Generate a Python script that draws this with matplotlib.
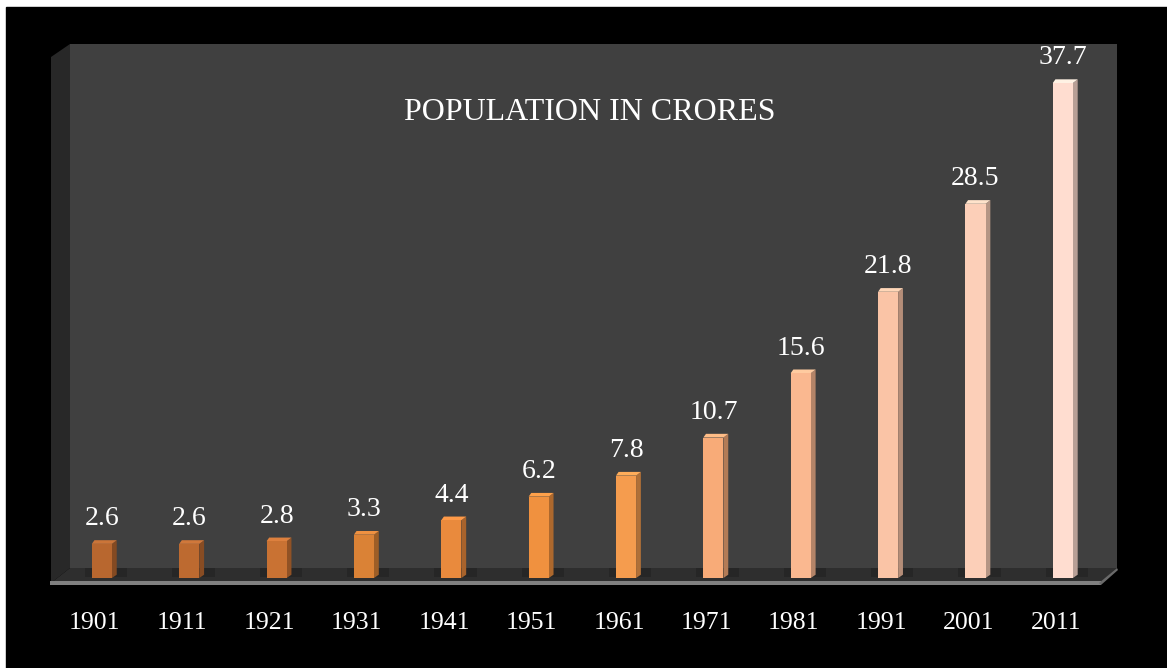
import numpy as np
import matplotlib
matplotlib.use('Agg')
import matplotlib.pyplot as plt
from matplotlib.patches import Polygon, Rectangle
from matplotlib.colors import to_rgb

years = ['1901', '1911', '1921', '1931', '1941', '1951',
         '1961', '1971', '1981', '1991', '2001', '2011']
population = [2.6, 2.6, 2.8, 3.3, 4.4, 6.2, 7.8, 10.7, 15.6, 21.8, 28.5, 37.7]
bar_colors = ['#B8672F', '#BD6A30', '#C97233', '#DA8236', '#E98A3D', '#F0913F',
              '#F59C4E', '#F8AB78', '#FAB890', '#FAC4A6', '#FCCFB8', '#FFDDD0']
title = 'POPULATION IN CRORES'

W, H = 1167, 668
plt.rcParams['font.family'] = ['Liberation Serif', 'DejaVu Serif']

fig = plt.figure(figsize=(W / 100, H / 100), dpi=100, facecolor='white')


def px(x, y):
    # image pixel coords (y down) -> figure fraction
    return (x / W, 1 - y / H)


# black canvas with thin white margin top/left
fig.patches.append(Rectangle(px(6, 668), (W - 6) / W, (H - 7) / H,
                             transform=fig.transFigure, color='black', zorder=-5))

# axes over the 3-D box area
left, right, top, bottom = 51, 1117, 44, 583
ax = fig.add_axes([left / W, 1 - bottom / H, (right - left) / W, (bottom - top) / H])
ax.set_axis_off()
x0_px, step_px = 104.5, 87.36
ax.set_xlim((left - x0_px) / step_px, (right - x0_px) / step_px)
ypx = 13.13
ax.set_ylim(-(bottom - 578) / ypx, (578 - top) / ypx)


def fig_poly(pts, color, z):
    ax.add_patch(Polygon([px(*p) for p in pts], closed=True, transform=fig.transFigure,
                         facecolor=color, edgecolor='none', zorder=z, clip_on=False))


# back wall, side wall, floor
fig_poly([(70, 44), (1117, 44), (1117, 568), (70, 568)], '#404040', 0)
fig_poly([(51, 57), (70, 44), (70, 568), (51, 583)], '#282828', 0.1)
fig_poly([(51, 583), (70, 568), (1117, 568), (1100, 583)], '#2e2e2e', 0.2)
fig_poly([(50, 581), (1101, 581), (1101, 585), (50, 585)], '#808080', 0.3)
fig_poly([(1099, 583), (1117, 568), (1118, 570), (1101, 585)], '#6a6a6a', 0.3)

x = np.arange(len(years))
front_w, side_w = 0.23, 0.055
cap = 0.28
front_left = x - 0.145
front_right = front_left + front_w

for i, (v, c) in enumerate(zip(population, bar_colors)):
    rgb = np.array(to_rgb(c))
    side_c = rgb * 0.72
    cap_c = np.minimum(rgb * 1.06 + 0.03, 1)
    # shadow on the floor
    ax.add_patch(Polygon([(front_left[i] - 0.08, 0.05), (front_right[i] + side_w + 0.12, 0.05),
                          (front_right[i] + side_w + 0.12, 0.75), (front_left[i] - 0.08, 0.75)],
                         facecolor='#262626', edgecolor='none', zorder=1))
    # side face
    ax.add_patch(Polygon([(front_right[i], 0), (front_right[i] + side_w, 0.25),
                          (front_right[i] + side_w, v + cap), (front_right[i], v)],
                         facecolor=side_c, edgecolor='none', zorder=2))
    # top cap
    ax.add_patch(Polygon([(front_left[i], v), (front_left[i] + 0.03, v + cap),
                          (front_right[i] + side_w, v + cap), (front_right[i], v)],
                         facecolor=cap_c, edgecolor='none', zorder=2))

ax.bar(front_left, population, width=front_w, align='edge', color=bar_colors, zorder=3)

for i, v in enumerate(population):
    ax.annotate(f'{v}', xy=(x[i] - 0.03, v), xytext=(0, 18), textcoords='offset points',
                ha='center', va='center', color='white', fontsize=20, zorder=5)
    ax.annotate(years[i], xy=(x[i], 0), xytext=(-7, -32.5), textcoords='offset points',
                ha='center', va='center', color='white', fontsize=18.5, annotation_clip=False)

fig.text(*px(590, 112), title, ha='center', va='center', color='white', fontsize=23)

fig.savefig('out.png', dpi=100, facecolor=fig.get_facecolor())
